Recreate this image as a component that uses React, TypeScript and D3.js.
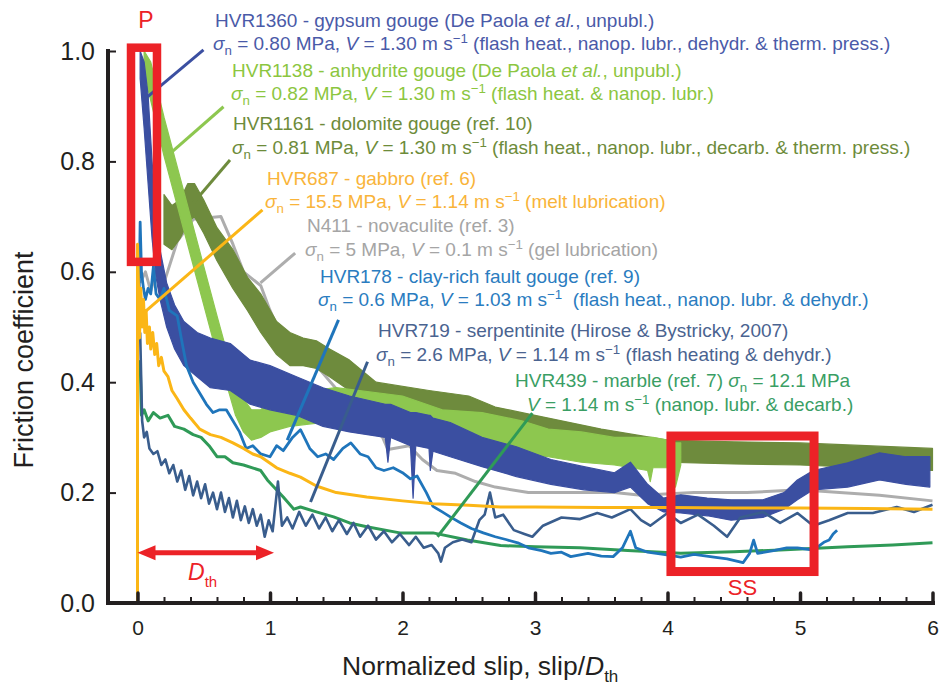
import { useEffect, useRef } from 'react';
import * as d3 from 'd3';

type Pt = [number, number];
type Band = [number, number, number];
type Seg = [string, ('i' | 'sub' | 'sup')?];

const W = 941;
const H = 685;
const FONT = '"Liberation Sans", Arial, Helvetica, sans-serif';

const xTicks = [0, 1, 2, 3, 4, 5, 6];
const yTicks = [0, 0.2, 0.4, 0.6, 0.8, 1.0];

// noisy records drawn as bands: [slip/Dth, low, high]
const gypsum: Band[] = [
  [0.02, 0.95, 1.0], [0.05, 0.86, 0.98], [0.08, 0.76, 0.92], [0.11, 0.66, 0.8], [0.14, 0.59, 0.7],
  [0.17, 0.55, 0.64], [0.22, 0.5, 0.58], [0.28, 0.46, 0.54], [0.35, 0.43, 0.51], [0.45, 0.41, 0.49],
  [0.55, 0.39, 0.48], [0.7, 0.385, 0.47], [0.85, 0.36, 0.44], [1.0, 0.35, 0.43], [1.2, 0.34, 0.41],
  [1.4, 0.32, 0.39], [1.6, 0.31, 0.375], [1.87, 0.3, 0.36], [1.89, 0.255, 0.36], [1.91, 0.3, 0.36],
  [2.06, 0.285, 0.345], [2.08, 0.19, 0.345], [2.1, 0.285, 0.345], [2.2, 0.28, 0.34], [2.21, 0.24, 0.34],
  [2.23, 0.275, 0.335], [2.36, 0.265, 0.327], [2.6, 0.247, 0.3], [2.86, 0.229, 0.283], [3.12, 0.215, 0.26],
  [3.37, 0.205, 0.247], [3.6, 0.2, 0.236], [3.72, 0.21, 0.255], [3.85, 0.18, 0.215], [3.97, 0.165, 0.19],
  [4.1, 0.163, 0.196], [4.3, 0.158, 0.19], [4.48, 0.15, 0.187], [4.72, 0.155, 0.187], [4.88, 0.17, 0.2],
  [4.98, 0.187, 0.223], [5.1, 0.205, 0.24], [5.36, 0.21, 0.254], [5.6, 0.223, 0.272], [5.8, 0.215, 0.265],
  [5.98, 0.21, 0.265],
];

const anhydrite: Band[] = [
  [0.05, 0.96, 1.0], [0.1, 0.91, 0.98], [0.2, 0.81, 0.88], [0.3, 0.72, 0.79], [0.4, 0.63, 0.7],
  [0.5, 0.54, 0.61], [0.6, 0.45, 0.52], [0.68, 0.39, 0.45], [0.74, 0.34, 0.41], [0.8, 0.31, 0.37],
  [0.86, 0.295, 0.35], [0.93, 0.3, 0.35], [1.0, 0.31, 0.365], [1.15, 0.32, 0.38], [1.5, 0.33, 0.39],
  [2.0, 0.32, 0.375], [2.3, 0.3, 0.35], [2.6, 0.28, 0.345], [2.9, 0.27, 0.33], [3.1, 0.265, 0.315],
  [3.35, 0.255, 0.31], [3.6, 0.25, 0.3], [3.85, 0.24, 0.3], [3.87, 0.22, 0.3], [3.89, 0.245, 0.3],
  [4.0, 0.245, 0.295], [4.06, 0.21, 0.29], [4.1, 0.25, 0.29],
];

const dolomite: Band[] = [
  [0.2, 0.65, 0.74], [0.26, 0.64, 0.72], [0.32, 0.66, 0.73], [0.38, 0.69, 0.76], [0.43, 0.7, 0.76],
  [0.5, 0.67, 0.73], [0.6, 0.62, 0.68], [0.72, 0.57, 0.64], [0.83, 0.53, 0.59], [0.93, 0.49, 0.56],
  [1.05, 0.45, 0.51], [1.15, 0.43, 0.49], [1.25, 0.43, 0.48], [1.35, 0.425, 0.475], [1.45, 0.41, 0.46],
  [1.6, 0.385, 0.44], [1.8, 0.355, 0.4], [2.2, 0.34, 0.385], [2.5, 0.325, 0.375], [2.7, 0.31, 0.355],
  [3.0, 0.295, 0.34], [3.5, 0.275, 0.315], [4.0, 0.255, 0.295], [4.5, 0.252, 0.292], [5.0, 0.25, 0.29],
  [5.5, 0.245, 0.285], [6.0, 0.24, 0.28],
];

// thinner records: [slip/Dth, friction]
const gabbro: Pt[] = [
  [0, 0], [0, 0.65], [0.01, 0.55], [0.015, 0.48], [0.025, 0.57], [0.035, 0.5], [0.045, 0.55],
  [0.055, 0.49], [0.065, 0.53], [0.075, 0.47], [0.09, 0.5], [0.1, 0.46], [0.115, 0.49], [0.13, 0.45],
  [0.145, 0.47], [0.16, 0.43], [0.18, 0.445], [0.2, 0.42], [0.23, 0.41], [0.26, 0.385], [0.3, 0.37],
  [0.35, 0.35], [0.4, 0.335], [0.47, 0.315], [0.55, 0.305], [0.63, 0.3], [0.72, 0.29], [0.8, 0.28],
  [0.87, 0.27], [0.93, 0.265], [1.05, 0.245], [1.15, 0.235], [1.23, 0.228], [1.35, 0.212], [1.5, 0.2],
  [1.73, 0.192], [2.0, 0.185], [2.23, 0.18], [2.5, 0.177], [2.74, 0.174], [3.0, 0.174], [3.5, 0.173],
  [4.0, 0.173], [4.5, 0.172], [5.0, 0.172], [5.5, 0.171], [6.0, 0.17],
];

const novaculite: Pt[] = [
  [0.02, 0.58], [0.06, 0.6], [0.1, 0.565], [0.14, 0.6], [0.2, 0.58], [0.3, 0.655], [0.42, 0.695],
  [0.63, 0.7], [0.72, 0.65], [0.8, 0.6], [0.93, 0.575], [1.0, 0.53], [1.13, 0.46], [1.35, 0.43],
  [1.6, 0.36], [1.85, 0.3], [1.89, 0.278], [2.05, 0.285], [2.15, 0.26], [2.26, 0.24], [2.4, 0.235],
  [2.55, 0.22], [2.7, 0.21], [2.95, 0.2], [3.2, 0.2], [3.6, 0.2], [3.8, 0.195], [4.2, 0.2], [4.6, 0.2],
  [5.0, 0.205], [5.3, 0.2], [5.6, 0.195], [6.0, 0.185],
];

const clayGouge: Pt[] = [
  [0.01, 0.52], [0.02, 0.69], [0.03, 0.6], [0.045, 0.57], [0.06, 0.55], [0.08, 0.57], [0.1, 0.56],
  [0.12, 0.61], [0.14, 0.56], [0.17, 0.55], [0.2, 0.57], [0.24, 0.53], [0.3, 0.52], [0.33, 0.48],
  [0.37, 0.43], [0.42, 0.4], [0.47, 0.38], [0.52, 0.36], [0.57, 0.345], [0.62, 0.35], [0.67, 0.35],
  [0.72, 0.33], [0.77, 0.31], [0.82, 0.28], [0.87, 0.285], [0.93, 0.27], [1.0, 0.265], [1.05, 0.285],
  [1.1, 0.276], [1.17, 0.3], [1.23, 0.314], [1.3, 0.28], [1.36, 0.265], [1.42, 0.27], [1.48, 0.26],
  [1.55, 0.28], [1.61, 0.29], [1.68, 0.27], [1.74, 0.265], [1.8, 0.245], [1.86, 0.24], [1.93, 0.245],
  [2.0, 0.236], [2.06, 0.225], [2.11, 0.23], [2.18, 0.2], [2.23, 0.175], [2.3, 0.165], [2.36, 0.156],
  [2.44, 0.145], [2.52, 0.135], [2.61, 0.127], [2.7, 0.12], [2.78, 0.115], [2.87, 0.109], [2.95, 0.1],
  [3.05, 0.095], [3.12, 0.09], [3.2, 0.092], [3.27, 0.084], [3.4, 0.09], [3.5, 0.085], [3.59, 0.084],
  [3.66, 0.1], [3.72, 0.13], [3.76, 0.1], [3.85, 0.092], [3.97, 0.088], [4.1, 0.083], [4.2, 0.088],
  [4.35, 0.083], [4.45, 0.08], [4.57, 0.073], [4.62, 0.09], [4.65, 0.114], [4.68, 0.09], [4.8, 0.095],
  [4.9, 0.1], [4.98, 0.1], [5.1, 0.096], [5.18, 0.11], [5.22, 0.114], [5.25, 0.125], [5.28, 0.132],
];

const serpentinite: Pt[] = [
  [0.02, 0.49], [0.035, 0.33], [0.05, 0.3], [0.07, 0.31], [0.09, 0.28], [0.12, 0.27], [0.15, 0.275],
  [0.18, 0.25], [0.21, 0.26], [0.24, 0.235], [0.27, 0.25], [0.3, 0.22], [0.33, 0.24], [0.36, 0.205],
  [0.39, 0.23], [0.42, 0.195], [0.45, 0.22], [0.48, 0.19], [0.51, 0.215], [0.54, 0.18], [0.57, 0.2],
  [0.6, 0.17], [0.63, 0.2], [0.66, 0.165], [0.69, 0.19], [0.72, 0.155], [0.75, 0.185], [0.78, 0.15],
  [0.81, 0.175], [0.84, 0.145], [0.87, 0.17], [0.9, 0.14], [0.93, 0.16], [0.96, 0.12], [0.99, 0.15],
  [1.02, 0.13], [1.06, 0.22], [1.09, 0.14], [1.13, 0.155], [1.17, 0.135], [1.22, 0.165], [1.27, 0.14],
  [1.32, 0.16], [1.37, 0.135], [1.42, 0.155], [1.47, 0.13], [1.52, 0.15], [1.58, 0.125], [1.63, 0.145],
  [1.68, 0.12], [1.74, 0.14], [1.8, 0.115], [1.86, 0.13], [1.92, 0.11], [1.98, 0.125], [2.05, 0.105],
  [2.1, 0.12], [2.16, 0.1], [2.22, 0.105], [2.27, 0.09], [2.29, 0.075], [2.32, 0.1], [2.38, 0.11],
  [2.45, 0.115], [2.52, 0.11], [2.58, 0.15], [2.62, 0.16], [2.66, 0.2], [2.7, 0.155], [2.76, 0.16],
  [2.84, 0.132], [2.92, 0.125], [2.98, 0.12], [3.06, 0.14], [3.2, 0.155], [3.34, 0.152], [3.47, 0.163],
  [3.58, 0.155], [3.72, 0.17], [3.8, 0.15], [3.87, 0.14], [4.0, 0.163], [4.1, 0.145], [4.23, 0.16],
  [4.35, 0.14], [4.45, 0.12], [4.55, 0.155], [4.72, 0.165], [4.85, 0.145], [4.98, 0.163], [5.1, 0.14],
  [5.22, 0.15], [5.36, 0.163], [5.55, 0.163], [5.73, 0.174], [5.86, 0.165], [6.0, 0.178],
];

const marble: Pt[] = [
  [0.02, 0.44], [0.03, 0.34], [0.05, 0.35], [0.08, 0.33], [0.12, 0.345], [0.17, 0.335], [0.23, 0.34],
  [0.28, 0.32], [0.35, 0.315], [0.42, 0.305], [0.48, 0.3], [0.54, 0.285], [0.6, 0.265], [0.66, 0.265],
  [0.72, 0.254], [0.8, 0.25], [0.93, 0.24], [0.98, 0.223], [1.1, 0.192], [1.18, 0.17], [1.23, 0.174],
  [1.35, 0.165], [1.48, 0.156], [1.6, 0.145], [1.73, 0.138], [1.98, 0.127], [2.23, 0.127], [2.49, 0.114],
  [2.74, 0.104], [3.0, 0.102], [3.34, 0.1], [3.7, 0.095], [4.1, 0.09], [4.5, 0.093], [4.85, 0.096],
  [5.36, 0.102], [5.7, 0.105], [6.0, 0.109],
];

const C = {
  gypsum: '#3b4fa1',
  anhydrite: '#8dc74f',
  dolomite: '#6e8b3d',
  gabbro: '#fbb616',
  novaculite: '#adadad',
  clay: '#1f75bb',
  serp: '#395d8d',
  marble: '#2f9a57',
  red: '#ec2227',
  ink: '#231f20',
};

const T = {
  gypsum: '#4a5aa8',
  anhydrite: '#8cc63f',
  dolomite: '#6d8b3a',
  gabbro: '#f9b43a',
  novaculite: '#a5a5a5',
  clay: '#2a7cc0',
  serp: '#4a6390',
  marble: '#3a9e64',
};

// leader lines from each label to its record, in data units
const leaders: { color: string; from: Pt; to: Pt }[] = [
  { color: C.gypsum, from: [0.498, 1.002], to: [0.075, 0.917] },
  { color: C.anhydrite, from: [0.649, 0.899], to: [0.249, 0.815] },
  { color: C.dolomite, from: [0.698, 0.8025], to: [0.423, 0.725] },
  { color: C.gabbro, from: [0.943, 0.712], to: [0.045, 0.525] },
  { color: C.novaculite, from: [1.19, 0.634], to: [0.928, 0.58] },
  { color: C.clay, from: [1.517, 0.513], to: [1.13, 0.295] },
  { color: C.serp, from: [1.736, 0.437], to: [1.306, 0.183] },
  { color: C.marble, from: [2.98, 0.344], to: [2.264, 0.12] },
];

const cond = (sn: string, v: string, tail: string): Seg[] => [
  ['σ', 'i'], ['n', 'sub'], [` = ${sn} MPa, `], ['V', 'i'], [` = ${v} m s`], ['−1', 'sup'], [tail],
];

const labels: { color: string; x1: number; y1: number; x2: number; y2: number; l1: Seg[]; l2: Seg[] }[] = [
  {
    color: T.gypsum, x1: 215, y1: 27, x2: 213, y2: 50,
    l1: [['HVR1360 - gypsum gouge (De Paola '], ['et al.', 'i'], [', unpubl.)']],
    l2: cond('0.80', '1.30', ' (flash heat., nanop. lubr., dehydr. & therm. press.)'),
  },
  {
    color: T.anhydrite, x1: 232, y1: 77, x2: 231, y2: 100,
    l1: [['HVR1138 - anhydrite gouge (De Paola '], ['et al.', 'i'], [', unpubl.)']],
    l2: cond('0.82', '1.30', ' (flash heat. & nanop. lubr.)'),
  },
  {
    color: T.dolomite, x1: 233, y1: 130, x2: 232, y2: 154,
    l1: [['HVR1161 - dolomite gouge (ref. 10)']],
    l2: cond('0.81', '1.30', ' (flash heat., nanop. lubr., decarb. & therm. press.)'),
  },
  {
    color: T.gabbro, x1: 267, y1: 185, x2: 265, y2: 208,
    l1: [['HVR687 - gabbro (ref. 6)']],
    l2: cond('15.5', '1.14', ' (melt lubrication)'),
  },
  {
    color: T.novaculite, x1: 307, y1: 232, x2: 305, y2: 256,
    l1: [['N411 - novaculite (ref. 3)']],
    l2: cond('5', '0.1', ' (gel lubrication)'),
  },
  {
    color: T.clay, x1: 320, y1: 283, x2: 318, y2: 306,
    l1: [['HVR178 - clay-rich fault gouge (ref. 9)']],
    l2: cond('0.6', '1.03', '  (flash heat., nanop. lubr. & dehydr.)'),
  },
  {
    color: T.serp, x1: 378, y1: 337, x2: 376, y2: 361,
    l1: [['HVR719 - serpentinite (Hirose & Bystricky, 2007)']],
    l2: cond('2.6', '1.14', ' (flash heating & dehydr.)'),
  },
  {
    color: T.marble, x1: 515, y1: 387, x2: 527, y2: 411,
    l1: [['HVR439 - marble (ref. 7) '], ['σ', 'i'], ['n', 'sub'], [' = 12.1 MPa']],
    l2: [['V', 'i'], [' = 1.14 m s'], ['−1', 'sup'], [' (nanop. lubr. & decarb.)']],
  },
];

// red annotations, data units
const peakBox = { x0: -0.049, x1: 0.147, y0: 0.618, y1: 1.006 };
const ssBox = { x0: 4.026, x1: 5.106, y0: 0.057, y1: 0.3025 };
const dthArrow = { x0: 0.0, x1: 1.03, y: 0.091 };

export default function App(): JSX.Element {
  const svgRef = useRef<SVGSVGElement | null>(null);

  useEffect(() => {
    if (!svgRef.current) return;
    const svg = d3.select(svgRef.current);
    svg.selectAll('*').remove();

    const x = d3.scaleLinear().domain([0, 6]).range([137.5, 932.5]);
    const y = d3.scaleLinear().domain([0, 1]).range([603, 51]);

    const band = d3.area<Band>().x(d => x(d[0])).y0(d => y(d[1])).y1(d => y(d[2]));
    const line = d3.line<Pt>().x(d => x(d[0])).y(d => y(d[1]));

    const plot = svg.append('g');
    const drawLine = (data: Pt[], color: string, w: number) =>
      plot.append('path').attr('d', line(data)).attr('fill', 'none')
        .attr('stroke', color).attr('stroke-width', w).attr('stroke-linejoin', 'round');
    const drawBand = (data: Band[], color: string) =>
      plot.append('path').attr('d', band(data)).attr('fill', color)
        .attr('stroke', color).attr('stroke-width', 1.2).attr('stroke-linejoin', 'round');

    drawLine(novaculite, C.novaculite, 3);
    drawBand(dolomite, C.dolomite);
    drawBand(anhydrite, C.anhydrite);
    drawBand(gypsum, C.gypsum);
    drawLine(marble, C.marble, 3);
    drawLine(serpentinite, C.serp, 2.6);
    drawLine(clayGouge, C.clay, 2.8);
    drawLine(gabbro, C.gabbro, 3);

    // leaders
    plot.selectAll('line.leader')
      .data(leaders)
      .join('line')
      .attr('class', 'leader')
      .attr('x1', d => x(d.from[0])).attr('y1', d => y(d.from[1]))
      .attr('x2', d => x(d.to[0])).attr('y2', d => y(d.to[1]))
      .attr('stroke', d => d.color).attr('stroke-width', 3);

    // labels
    const size = 19;
    const rich = (px: number, py: number, color: string, segs: Seg[]) => {
      const t = svg.append('text').attr('x', px).attr('y', py).attr('fill', color)
        .style('font-family', FONT).style('font-size', `${size}px`).style('white-space', 'pre');
      let shift = 0;
      segs.forEach(([s, k]) => {
        const ts = t.append('tspan').text(s);
        const target = k === 'sub' ? size * 0.27 : k === 'sup' ? -size * 0.38 : 0;
        if (target !== shift) ts.attr('dy', target - shift);
        shift = target;
        if (k === 'i') ts.style('font-style', 'italic');
        if (k === 'sub' || k === 'sup') ts.style('font-size', `${size * 0.7}px`);
      });
    };
    labels.forEach(l => {
      rich(l.x1, l.y1, l.color, l.l1);
      rich(l.x2, l.y2, l.color, l.l2);
    });

    // red annotations
    const red = svg.append('g');
    red.append('rect')
      .attr('x', x(peakBox.x0)).attr('y', y(peakBox.y1))
      .attr('width', x(peakBox.x1) - x(peakBox.x0)).attr('height', y(peakBox.y0) - y(peakBox.y1))
      .attr('fill', 'none').attr('stroke', C.red).attr('stroke-width', 8.5);
    red.append('rect')
      .attr('x', x(ssBox.x0)).attr('y', y(ssBox.y1))
      .attr('width', x(ssBox.x1) - x(ssBox.x0)).attr('height', y(ssBox.y0) - y(ssBox.y1))
      .attr('fill', 'none').attr('stroke', C.red).attr('stroke-width', 9);
    red.append('text').attr('x', (x(peakBox.x0) + x(peakBox.x1)) / 2 + 2).attr('y', 28)
      .attr('text-anchor', 'middle').attr('fill', C.red)
      .style('font-family', FONT).style('font-size', '23px').text('P');
    red.append('text').attr('x', (x(ssBox.x0) + x(ssBox.x1)) / 2).attr('y', 595)
      .attr('text-anchor', 'middle').attr('fill', C.red)
      .style('font-family', FONT).style('font-size', '22px').text('SS');

    const ay = y(dthArrow.y);
    const a0 = x(dthArrow.x0);
    const a1 = x(dthArrow.x1);
    red.append('line').attr('x1', a0 + 10).attr('x2', a1 - 10).attr('y1', ay).attr('y2', ay)
      .attr('stroke', C.red).attr('stroke-width', 5);
    red.append('path').attr('d', `M${a0},${ay}L${a0 + 18},${ay - 7.5}L${a0 + 18},${ay + 7.5}Z`).attr('fill', C.red);
    red.append('path').attr('d', `M${a1},${ay}L${a1 - 18},${ay - 7.5}L${a1 - 18},${ay + 7.5}Z`).attr('fill', C.red);
    const dth = red.append('text').attr('x', 188).attr('y', 580).attr('fill', C.red)
      .style('font-family', FONT).style('font-size', '23px');
    dth.append('tspan').style('font-style', 'italic').text('D');
    dth.append('tspan').attr('dy', 7).style('font-size', '15px').text('th');

    // axes
    const yAxis = svg.append('g').attr('transform', 'translate(108,0)')
      .call(d3.axisLeft(y).tickValues(yTicks).tickSizeInner(-8).tickSizeOuter(0)
        .tickPadding(13).tickFormat(d3.format('.1f')));
    yAxis.select('.domain').remove();
    yAxis.selectAll('line').attr('stroke', C.ink).attr('stroke-width', 2);
    yAxis.selectAll('text').attr('fill', C.ink).style('font-family', FONT).style('font-size', '25px');

    const minor = d3.range(0, 6.001, 0.2).filter(v => Math.abs(v - Math.round(v)) > 1e-6);
    const xMinor = svg.append('g').attr('transform', 'translate(0,603)')
      .call(d3.axisBottom(x).tickValues(minor).tickSizeInner(-6).tickSizeOuter(0).tickFormat(() => ''));
    xMinor.select('.domain').remove();
    xMinor.selectAll('line').attr('stroke', C.ink).attr('stroke-width', 2);

    const xAxis = svg.append('g').attr('transform', 'translate(0,603)')
      .call(d3.axisBottom(x).tickValues(xTicks).tickSizeInner(-10).tickSizeOuter(0)
        .tickPadding(17).tickFormat(d3.format('d')));
    xAxis.select('.domain').remove();
    xAxis.selectAll('line').attr('stroke', C.ink).attr('stroke-width', 3.5).attr('stroke-linecap', 'round');
    xAxis.selectAll('text').attr('fill', C.ink).style('font-family', FONT).style('font-size', '21px');

    svg.append('line').attr('x1', 108).attr('x2', 108).attr('y1', 49).attr('y2', 605)
      .attr('stroke', C.ink).attr('stroke-width', 4);
    svg.append('line').attr('x1', 106).attr('x2', 935).attr('y1', 603).attr('y2', 603)
      .attr('stroke', C.ink).attr('stroke-width', 4);

    // titles
    svg.append('text').attr('transform', 'translate(33,360) rotate(-90)')
      .attr('text-anchor', 'middle').attr('fill', C.ink)
      .style('font-family', FONT).style('font-size', '27px').text('Friction coefficient');
    const xt = svg.append('text').attr('x', 342).attr('y', 675).attr('fill', C.ink)
      .style('font-family', FONT).style('font-size', '26.5px');
    xt.append('tspan').text('Normalized slip, slip/');
    xt.append('tspan').style('font-style', 'italic').text('D');
    xt.append('tspan').attr('dy', 7).style('font-size', '17px').text('th');
  }, []);

  return (
    <svg
      ref={svgRef}
      width={W}
      height={H}
      style={{ position: 'absolute', left: 0, top: 0, display: 'block', background: '#fff' }}
    />
  );
}
